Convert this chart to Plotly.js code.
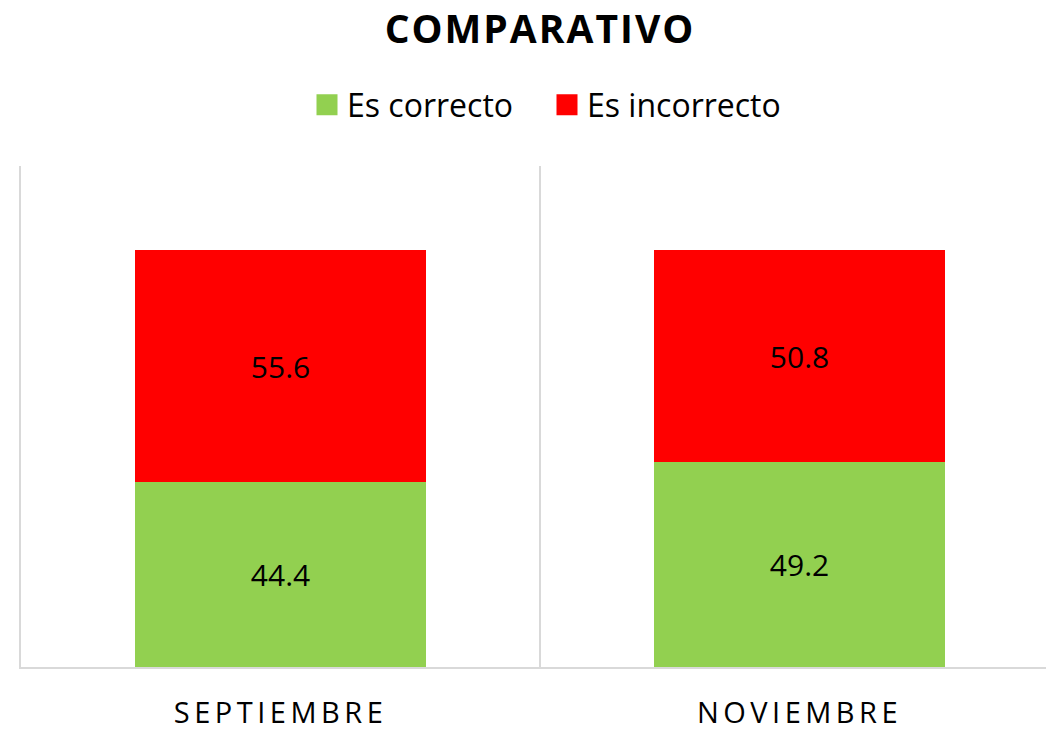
<!DOCTYPE html>
<html>
<head>
<meta charset="utf-8">
<script src="https://cdn.plot.ly/plotly-3.0.1.min.js"></script>
<style>html,body{margin:0;padding:0;background:#fff;}</style>
</head>
<body>
<div id="chart" style="width:1046px;height:730px;"></div>
<script>
const categories = ['SEPTIEMBRE', 'NOVIEMBRE'];
const correcto = [44.4, 49.2];
const incorrecto = [55.6, 50.8];
const seriesNames = ['Es correcto', 'Es incorrecto'];

const FONT = 'Open Sans, Noto Sans, sans-serif';

const traces = [
  {
    type: 'bar', name: seriesNames[0], x: categories, y: correcto,
    marker: {color: '#92D050'}, width: 0.56,
    text: correcto.map(v => v.toFixed(1)), textposition: 'inside',
    insidetextanchor: 'middle', constraintext: 'none',
    textfont: {family: FONT, size: 30, color: '#000'}, hoverinfo: 'none'
  },
  {
    type: 'bar', name: seriesNames[1], x: categories, y: incorrecto,
    marker: {color: '#FF0000'}, width: 0.56,
    text: incorrecto.map(v => v.toFixed(1)), textposition: 'inside',
    insidetextanchor: 'middle', constraintext: 'none',
    textfont: {family: FONT, size: 30, color: '#000'}, hoverinfo: 'none'
  }
];

const layout = {
  width: 1046, height: 730,
  margin: {l: 21, r: 0, t: 166, b: 63, pad: 0},
  paper_bgcolor: '#fff', plot_bgcolor: '#fff',
  barmode: 'stack',
  font: {family: FONT, color: '#000'},
  title: {
    text: '<b>COMPARATIVO</b>', xref: 'container', x: 540 / 1046, xanchor: 'center',
    yref: 'container', y: 1 - 29 / 730, yanchor: 'middle',
    font: {family: FONT, size: 39, color: '#000'}
  },
  showlegend: true,
  legend: {
    orientation: 'h', xref: 'container', x: 547 / 1046, xanchor: 'center',
    yref: 'container', y: 1 - 105 / 730, yanchor: 'middle',
    font: {family: FONT, size: 32, color: '#000'}, traceorder: 'normal',
    entrywidth: 195, entrywidthmode: 'pixels',
    itemclick: false, itemdoubleclick: false
  },
  xaxis: {
    type: 'category', range: [-0.5, -0.5 + 1025 / 519],
    showgrid: false, zeroline: false, showline: true, linecolor: '#D9D9D9', linewidth: 2,
    ticks: '', ticklabelstandoff: 19,
    tickfont: {family: FONT, size: 29, color: '#000'}
  },
  yaxis: {
    range: [0, 120.2], showgrid: false, zeroline: false,
    showline: true, linecolor: '#D9D9D9', linewidth: 2, showticklabels: false, ticks: ''
  },
  shapes: [
    {type: 'line', xref: 'x', yref: 'paper', x0: 0.5, x1: 0.5, y0: 0, y1: 1,
     line: {color: '#D9D9D9', width: 2}}
  ]
};

Plotly.newPlot('chart', traces, layout, {staticPlot: true, displayModeBar: false}).then(() => {
  document.querySelectorAll('.xtick text').forEach(t => { t.style.letterSpacing = '4.5px'; });
  document.querySelectorAll('.gtitle').forEach(t => { t.style.letterSpacing = '2px'; });
  document.querySelectorAll('.legend .legendpoints path').forEach(p => {
    p.setAttribute('d', 'M10.5,10.5H-10.5V-10.5H10.5Z');
    p.style.strokeWidth = '0px';
  });
});
</script>
</body>
</html>
